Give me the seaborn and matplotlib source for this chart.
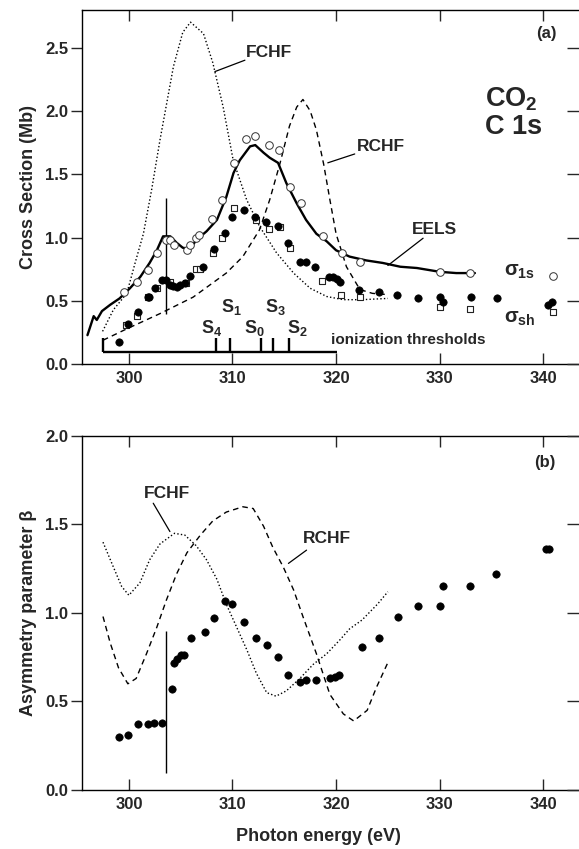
import matplotlib
matplotlib.use("Agg")
import matplotlib.pyplot as plt
import seaborn as sns
import pandas as pd

sns.set_style("ticks")
plt.rcParams['font.family'] = 'Liberation Sans'
plt.rcParams['font.weight'] = 'bold'
plt.rcParams['axes.labelweight'] = 'bold'
plt.rcParams['mathtext.fontset'] = 'custom'
plt.rcParams['mathtext.rm'] = 'Liberation Sans:bold'
plt.rcParams['mathtext.bf'] = 'Liberation Sans:bold'
plt.rcParams['mathtext.it'] = 'Liberation Sans:italic'
plt.rcParams['mathtext.default'] = 'bf'

# ---------------- Panel (a): cross sections ----------------
fchf_a_x = [297.46, 298.5, 299.8, 300.6, 301.4, 302.2, 303.0, 304.3, 305.2, 305.95, 307.2, 308.1,
            309.1, 310.07, 311.36, 312.6, 314.25, 315.9, 317.5, 319.1, 320.7, 322.5, 325.0]
fchf_a_y = [0.26, 0.43, 0.56, 0.80, 1.03, 1.38, 1.77, 2.35, 2.62, 2.70, 2.61, 2.38,
            2.03, 1.61, 1.30, 1.09, 0.88, 0.72, 0.60, 0.535, 0.51, 0.51, 0.52]

rchf_a_x = [297.5, 299.8, 303.0, 306.2, 309.4, 311.0, 312.6, 313.6, 314.6, 315.5, 316.2, 316.8,
            317.5, 318.1, 318.8, 319.4, 320.0, 321.0, 322.3, 323.5, 325.0]
rchf_a_y = [0.19, 0.28, 0.40, 0.53, 0.72, 0.85, 1.06, 1.30, 1.59, 1.88, 2.03, 2.09,
            2.00, 1.85, 1.58, 1.30, 1.03, 0.77, 0.59, 0.56, 0.55]

eels_x = [296.0, 296.6, 296.9, 297.4, 298.2, 299.1, 300.1, 301.1, 302.0, 302.7, 303.3, 304.0,
          304.6, 305.2, 305.9, 306.5, 307.5, 308.5, 309.4, 310.1, 310.7, 311.7, 312.2, 313.0,
          313.6, 314.4, 315.2, 316.2, 317.1, 318.1, 319.1, 320.0, 321.3, 322.9, 324.5, 326.2,
          327.8, 330.0, 331.6, 333.4]
eels_y = [0.23, 0.38, 0.35, 0.42, 0.47, 0.52, 0.60, 0.69, 0.80, 0.90, 1.01, 1.01,
          0.96, 0.92, 0.91, 0.98, 1.05, 1.14, 1.32, 1.51, 1.61, 1.72, 1.73, 1.67,
          1.63, 1.59, 1.43, 1.27, 1.14, 1.03, 0.97, 0.90, 0.85, 0.82, 0.80, 0.77,
          0.76, 0.73, 0.72, 0.72]

s1s_x = [299.5, 300.8, 301.8, 302.7, 303.6, 303.96, 304.4, 305.6, 305.9, 306.5, 306.8, 308.0,
         309.0, 310.1, 311.3, 312.2, 313.5, 314.5, 315.6, 316.6, 318.7, 320.6, 322.3, 330.0,
         332.9, 340.9]
s1s_y = [0.574, 0.653, 0.745, 0.877, 0.982, 0.98, 0.94, 0.90, 0.94, 0.995, 1.02, 1.15,
         1.30, 1.59, 1.78, 1.80, 1.73, 1.69, 1.40, 1.27, 1.01, 0.88, 0.81, 0.73,
         0.72, 0.70]

ssh_x = [299.0, 299.9, 300.9, 301.8, 301.96, 302.5, 303.2, 303.6, 303.96, 304.3, 304.6, 304.9,
         305.4, 305.9, 307.2, 308.2, 309.3, 310.0, 311.1, 312.2, 313.2, 314.4, 315.4, 316.5,
         317.1, 318.0, 319.3, 319.7, 320.1, 320.4, 322.2, 324.1, 325.9, 327.9, 330.0, 330.3,
         333.0, 335.5, 340.5, 340.8]
ssh_y = [0.174, 0.32, 0.41, 0.53, 0.535, 0.60, 0.666, 0.666, 0.627, 0.62, 0.61, 0.627,
         0.64, 0.70, 0.77, 0.91, 1.04, 1.16, 1.22, 1.16, 1.12, 1.09, 0.955, 0.81,
         0.81, 0.77, 0.69, 0.69, 0.67, 0.65, 0.59, 0.57, 0.55, 0.52, 0.53, 0.49,
         0.53, 0.52, 0.47, 0.49]

sq_x = [299.7, 300.8, 301.8, 302.7, 303.96, 305.5, 306.5, 306.9, 308.1, 309.0, 310.1, 312.3,
        313.5, 314.6, 315.6, 318.6, 320.5, 322.3, 330.0, 332.9, 340.9]
sq_y = [0.31, 0.38, 0.53, 0.60, 0.653, 0.64, 0.75, 0.75, 0.88, 1.00, 1.23, 1.14,
        1.07, 1.08, 0.92, 0.66, 0.55, 0.53, 0.45, 0.44, 0.41]

thr_x = [308.37, 309.78, 312.77, 313.93, 315.41]
thr_names = ['S$_4$', 'S$_1$', 'S$_0$', 'S$_3$', 'S$_2$']
thr_label_x = [308.0, 309.9, 312.16, 314.1, 316.3]
thr_label_y = [0.284, 0.455, 0.284, 0.455, 0.284]
thr_bar = [297.5, 320.05]
thr_bar_y = 0.10
thr_tick_top = 0.205
edge_x = 303.54
edge_a = [0.40, 1.31]

# ---------------- Panel (b): asymmetry parameter ----------------
fchf_b_x = [297.5, 298.5, 299.3, 300.0, 301.06, 302.0, 303.0, 304.4, 305.4, 306.5, 307.5, 308.5,
            309.4, 310.4, 311.4, 312.3, 313.3, 314.2, 315.2, 316.5, 317.8, 319.1, 320.4, 321.3,
            322.5, 324.0, 325.0]
fchf_b_y = [1.40, 1.26, 1.15, 1.10, 1.17, 1.30, 1.39, 1.45, 1.44, 1.38, 1.30, 1.19,
            1.05, 0.92, 0.79, 0.66, 0.55, 0.53, 0.56, 0.63, 0.71, 0.77, 0.85, 0.91,
            0.96, 1.05, 1.12]

rchf_b_x = [297.5, 298.2, 299.0, 299.9, 300.7, 301.7, 302.7, 303.6, 304.6, 305.6, 306.9, 308.1,
            309.4, 311.0, 312.0, 313.0, 313.9, 314.9, 315.9, 316.8, 318.1, 319.4, 320.7, 321.7,
            323.0, 323.9, 325.0]
rchf_b_y = [0.98, 0.83, 0.69, 0.60, 0.63, 0.77, 0.92, 1.07, 1.22, 1.34, 1.44, 1.52,
            1.57, 1.60, 1.59, 1.49, 1.37, 1.26, 1.13, 0.98, 0.77, 0.54, 0.43, 0.39,
            0.45, 0.58, 0.72]

beta_x = [299.07, 299.94, 300.9, 301.8, 302.45, 303.2, 304.2, 304.4, 304.6, 305.0, 305.3, 306.0,
          307.3, 308.2, 309.3, 310.0, 311.1, 312.3, 313.3, 314.4, 315.4, 316.5, 317.1, 318.1,
          319.4, 319.9, 320.3, 322.5, 324.1, 326.0, 327.9, 330.0, 330.3, 332.9, 335.4, 340.3,
          340.6]
beta_y = [0.30, 0.31, 0.37, 0.37, 0.38, 0.38, 0.57, 0.72, 0.74, 0.76, 0.76, 0.86,
          0.89, 0.97, 1.07, 1.05, 0.95, 0.86, 0.82, 0.75, 0.65, 0.61, 0.62, 0.62,
          0.63, 0.64, 0.65, 0.81, 0.86, 0.98, 1.04, 1.04, 1.15, 1.15, 1.22, 1.36,
          1.36]
edge_b = [0.094, 0.90]

xticks = [300, 310, 320, 330, 340]
yticks_a = [0.0, 0.5, 1.0, 1.5, 2.0, 2.5]
yticks_b = [0.0, 0.5, 1.0, 1.5, 2.0]
xlim = (295.5, 343.45)

BOLD = dict(family='Liberation Sans', fontweight='bold')

fig = plt.figure(figsize=(5.79, 8.49), dpi=100)
ax1 = fig.add_axes([0.1421, 0.5709, 0.8579, 0.4179])
ax2 = fig.add_axes([0.1421, 0.0695, 0.8579, 0.4170])

dot = (0, (1, 1.6))
dash = (0, (4, 3))

# Panel a curves
sns.lineplot(x=fchf_a_x, y=fchf_a_y, ax=ax1, color='black', lw=1.0, linestyle=dot, sort=False)
sns.lineplot(x=rchf_a_x, y=rchf_a_y, ax=ax1, color='black', lw=1.0, linestyle=dash, sort=False)
sns.lineplot(x=eels_x, y=eels_y, ax=ax1, color='black', lw=1.7, sort=False)
sns.scatterplot(x=s1s_x, y=s1s_y, ax=ax1, marker='o', s=30, facecolor='white',
                edgecolor='#333333', linewidth=0.7, zorder=3)
sns.scatterplot(x=sq_x, y=sq_y, ax=ax1, marker='s', s=24, facecolor='white',
                edgecolor='#222222', linewidth=0.8, zorder=3)
sns.scatterplot(x=ssh_x, y=ssh_y, ax=ax1, marker='o', s=28, color='black',
                edgecolor='black', linewidth=0.5, zorder=4)
ax1.vlines(edge_x, edge_a[0], edge_a[1], color='black', lw=1.0)
ax1.hlines(thr_bar_y, thr_bar[0], thr_bar[1], color='black', lw=1.7)
ax1.vlines([thr_bar[0]] + thr_x, thr_bar_y, thr_tick_top, color='black', lw=1.7)
for nx, ny, nm in zip(thr_label_x, thr_label_y, thr_names):
    ax1.text(nx, ny, nm, ha='center', va='center', fontsize=13, **BOLD)
ax1.text(319.5, 0.19, 'ionization thresholds', ha='left', va='center', fontsize=11, **BOLD)

lead = dict(arrowstyle='-', color='black', lw=0.9, shrinkA=0, shrinkB=0)
ax1.annotate('', xy=(308.3, 2.31), xytext=(311.2, 2.40), arrowprops=lead)
ax1.text(311.3, 2.46, 'FCHF', ha='left', va='center', fontsize=12.5, **BOLD)
ax1.annotate('', xy=(319.2, 1.59), xytext=(321.8, 1.66), arrowprops=lead)
ax1.text(322.0, 1.72, 'RCHF', ha='left', va='center', fontsize=12.5, **BOLD)
ax1.annotate('', xy=(325.0, 0.78), xytext=(328.4, 0.995), arrowprops=lead)
ax1.text(327.3, 1.06, 'EELS', ha='left', va='center', fontsize=12.5, **BOLD)
ax1.text(336.2, 0.73, r'$\mathregular{\sigma}_{1s}$', ha='left', va='center', fontsize=14.5)
ax1.text(336.2, 0.36, r'$\mathregular{\sigma}_{sh}$', ha='left', va='center', fontsize=14.5)
ax1.text(341.3, 2.61, '(a)', ha='right', va='center', fontsize=12, **BOLD)
ax1.text(334.4, 2.09, r'CO$_2$', ha='left', va='center', fontsize=19.5, **BOLD)
ax1.text(334.4, 1.87, 'C 1s', ha='left', va='center', fontsize=19.5, **BOLD)

# Panel b curves
sns.lineplot(x=fchf_b_x, y=fchf_b_y, ax=ax2, color='black', lw=1.0, linestyle=dot, sort=False)
sns.lineplot(x=rchf_b_x, y=rchf_b_y, ax=ax2, color='black', lw=1.0, linestyle=dash, sort=False)
sns.scatterplot(x=beta_x, y=beta_y, ax=ax2, marker='o', s=28, color='black',
                edgecolor='black', linewidth=0.5, zorder=4)
ax2.vlines(edge_x, edge_b[0], edge_b[1], color='black', lw=1.0)
ax2.annotate('', xy=(302.35, 1.62), xytext=(303.96, 1.46), arrowprops=lead)
ax2.text(301.4, 1.676, 'FCHF', ha='left', va='center', fontsize=12.5, **BOLD)
ax2.annotate('', xy=(315.4, 1.28), xytext=(317.15, 1.355), arrowprops=lead)
ax2.text(316.8, 1.42, 'RCHF', ha='left', va='center', fontsize=12.5, **BOLD)
ax2.text(341.2, 1.85, '(b)', ha='right', va='center', fontsize=12, **BOLD)

for ax, yt, ylim, lab in [(ax1, yticks_a, (0, 2.8), 'Cross Section (Mb)'),
                          (ax2, yticks_b, (0, 2.0), 'Asymmetry parameter β')]:
    ax.set_xlim(*xlim)
    ax.set_ylim(*ylim)
    ax.set_xticks(xticks)
    ax.set_yticks(yt)
    ax.set_xticklabels([str(t) for t in xticks], fontsize=12, **BOLD)
    ax.set_yticklabels([f'{t:.1f}' for t in yt], fontsize=12, **BOLD)
    ax.tick_params(axis='x', direction='in', top=True, bottom=True, length=8, width=1.0, pad=5)
    ax.tick_params(axis='y', direction='out', left=True, right=False, length=8, width=1.0, pad=2)
    for sp in ['left', 'bottom', 'top']:
        ax.spines[sp].set_linewidth(1.0)
        ax.spines[sp].set_color('black')
    ax.spines['right'].set_visible(False)
    ax.set_ylabel(lab, fontsize=13, **BOLD)
    ax.yaxis.set_label_coords(-0.091, 0.5)
    tw = ax.twinx()
    tw.set_ylim(*ylim)
    tw.set_yticks(yt)
    tw.set_yticklabels([])
    tw.tick_params(axis='y', direction='in', length=9, width=1.0)
    for sp in tw.spines.values():
        sp.set_visible(False)
    ax.set_xlabel('')

ax2.set_xlabel('Photon energy (eV)', fontsize=13, **BOLD)
ax2.xaxis.set_label_coords(0.475, -0.108)

fig.savefig('out.png', dpi=100)
